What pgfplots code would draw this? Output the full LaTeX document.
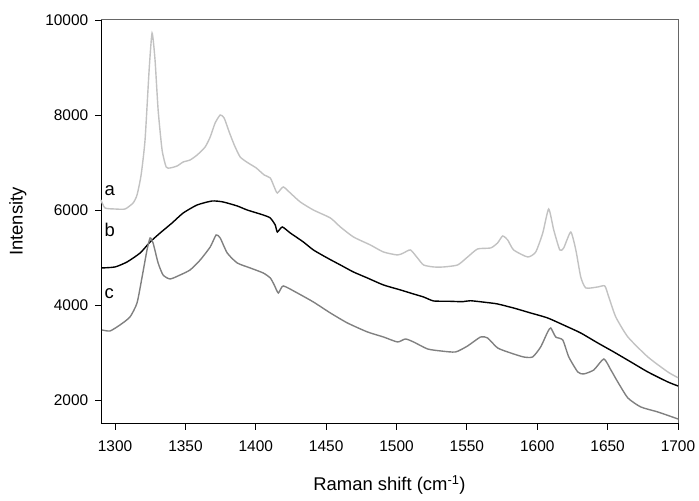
\documentclass[border=0pt]{standalone}
\usepackage{fontspec}
\setmainfont{Liberation Sans}
\usepackage{pgfplots}
\pgfplotsset{compat=1.18}
\definecolor{ca}{gray}{0.76}
\definecolor{cc}{gray}{0.50}
\definecolor{spine}{gray}{0.40}
\begin{document}
\begin{tikzpicture}
\begin{axis}[
  scale only axis, width=577bp, height=403bp,
  xmin=1290, xmax=1700, ymin=1516, ymax=10000,
  axis x line*=bottom, axis y line*=left,
  axis line style={black, line width=0.9pt, -},
  xtick={1300,1350,...,1700}, ytick={2000,4000,6000,8000,10000},
  scaled y ticks=false, scaled x ticks=false,
  tick align=outside,
  tick style={draw=none},
  /pgf/number format/1000 sep={},
  /pgf/number format/assume math mode=true,
  xticklabel style={font=\fontsize{15.5}{18}\selectfont, yshift=-10bp},
  yticklabel style={font=\fontsize{15.5}{18}\selectfont, xshift=-5bp},
  xlabel style={font=\fontsize{18.5}{22}\selectfont, at={(axis description cs:0.5,-0.1687)}, anchor=base},
  ylabel style={font=\fontsize{18.5}{22}\selectfont, at={(axis description cs:-0.136,0.5)}, anchor=base},
  xlabel={Raman shift (cm\textsuperscript{-1})},
  ylabel={Intensity},
  clip=false,
  every axis plot/.append style={smooth, tension=0.35, line width=1.4pt},
]
\draw[spine, line width=1pt] (rel axis cs:0,1) -- (rel axis cs:1,1) -- (rel axis cs:1,0);
% tick marks
\draw[black, line width=0.9pt]
  (axis cs:1300,1516) -- ([yshift=-7bp]axis cs:1300,1516)
  (axis cs:1350,1516) -- ([yshift=-7bp]axis cs:1350,1516)
  (axis cs:1400,1516) -- ([yshift=-7bp]axis cs:1400,1516)
  (axis cs:1450,1516) -- ([yshift=-7bp]axis cs:1450,1516)
  (axis cs:1500,1516) -- ([yshift=-7bp]axis cs:1500,1516)
  (axis cs:1550,1516) -- ([yshift=-7bp]axis cs:1550,1516)
  (axis cs:1600,1516) -- ([yshift=-7bp]axis cs:1600,1516)
  (axis cs:1650,1516) -- ([yshift=-7bp]axis cs:1650,1516)
  (axis cs:1700,1516) -- ([yshift=-7bp]axis cs:1700,1516);
\draw[black, line width=0.9pt]
  (axis cs:1290,2000) -- ([xshift=-6bp]axis cs:1290,2000)
  (axis cs:1290,4000) -- ([xshift=-6bp]axis cs:1290,4000)
  (axis cs:1290,6000) -- ([xshift=-6bp]axis cs:1290,6000)
  (axis cs:1290,8000) -- ([xshift=-6bp]axis cs:1290,8000)
  (axis cs:1290,10000) -- ([xshift=-6bp]axis cs:1290,10000);
% curve a
\addplot[ca] coordinates {
(1290,6211) (1292.8,6043) (1300,6021) (1307.1,6021) (1312.8,6148) (1315.6,6316)
(1318.5,6737) (1321.3,7474) (1324.2,8947) (1326.3,9726) (1328.4,9158) (1330.6,8105)
(1333.4,7264) (1336.3,6906) (1339.1,6885) (1344.1,6927) (1348.4,7011) (1353.3,7053)
(1358.3,7158) (1364.0,7327) (1367.6,7537) (1371.1,7832) (1374.7,8000) (1377.5,7937)
(1381.1,7642) (1384.7,7369) (1388.9,7116) (1394.6,6990) (1400.3,6885) (1406.0,6737)
(1410.3,6674) (1413.1,6485) (1415.3,6358) (1419.5,6485) (1424.5,6358) (1431.6,6169)
(1440.9,6000) (1453.0,5832) (1460.1,5643) (1469.4,5432) (1481.4,5264) (1490.7,5116)
(1500.7,5053) (1504.9,5095) (1509.9,5159) (1514.9,4990) (1519.2,4843) (1526.3,4801)
(1533.4,4801) (1543.4,4843) (1550.5,5011) (1557.6,5180) (1566.9,5201) (1571.8,5306)
(1575.4,5453) (1579.0,5369) (1583.2,5159) (1593.2,5011) (1598.9,5116) (1603.9,5516)
(1608.1,6021) (1611.7,5580) (1616.0,5159) (1618.8,5201) (1623.8,5537) (1627.4,5159)
(1630.9,4590) (1634.5,4359) (1643.0,4380) (1648.0,4401) (1650.8,4169) (1655.8,3748)
(1664.4,3327) (1678.6,2906) (1692.8,2590) (1700,2470)
};
% curve b
\addplot[black] coordinates {
(1290.7,4780) (1300,4801) (1308.5,4906) (1317.8,5095) (1324.9,5327) (1332.0,5516)
(1340.5,5727) (1348.4,5937) (1358.3,6106) (1369.0,6190) (1376.8,6169) (1386.8,6085)
(1393.9,6000) (1405.3,5895) (1410.3,5832) (1413.8,5685) (1415.3,5537) (1418.8,5643)
(1424.5,5516) (1433.8,5327) (1440.9,5159) (1450.8,4990) (1460.1,4843) (1469.4,4695)
(1479.3,4569) (1490.7,4422) (1502.8,4317) (1512.1,4232) (1519.2,4169) (1526.3,4085)
(1536.3,4080) (1546.9,4070) (1552.6,4090) (1566.9,4043) (1571.8,4022) (1583.2,3937)
(1595.3,3832) (1607.4,3727) (1621.7,3538) (1630.9,3411) (1643.0,3201) (1654.4,3011)
(1666.5,2801) (1678.6,2590) (1692.8,2380) (1700,2296)
};
% curve c
\addplot[cc] coordinates {
(1290.7,3475) (1296.4,3453) (1303.5,3580) (1310.6,3748) (1315.6,4043) (1319.2,4590)
(1322.7,5159) (1324.9,5411) (1327.0,5306) (1330.6,4885) (1334.1,4632) (1339.1,4548)
(1346.2,4632) (1353.3,4738) (1360.5,4948) (1367.6,5222) (1371.8,5474) (1374.7,5411)
(1379.7,5095) (1386.8,4885) (1396.0,4780) (1405.3,4674) (1410.3,4569) (1413.1,4422)
(1416.0,4253) (1419.5,4401) (1429.5,4253) (1440.9,4064) (1453.0,3832) (1465.1,3622)
(1479.3,3433) (1490.7,3327) (1500.7,3222) (1506.3,3285) (1512.1,3222) (1522.0,3075)
(1531.3,3033) (1541.9,3011) (1550.5,3138) (1559.7,3327) (1564.7,3306) (1571.8,3096)
(1581.1,2990) (1590.3,2906) (1596.7,2906) (1602.4,3117) (1607.4,3433) (1609.6,3517)
(1613.1,3327) (1618.1,3264) (1622.4,2906) (1628.8,2590) (1633.0,2548) (1640.2,2633)
(1647.3,2864) (1652.3,2633) (1657.2,2380) (1664.4,2043) (1673.6,1853) (1685.7,1748)
(1700,1601)
};
\node[anchor=base west, inner sep=0pt, font=\fontsize{18.5}{22}\selectfont] at (axis cs:1292.5,6295) {a};
\node[anchor=base west, inner sep=0pt, font=\fontsize{18.5}{22}\selectfont] at (axis cs:1292.5,5432) {b};
\node[anchor=base west, inner sep=0pt, font=\fontsize{18.5}{22}\selectfont] at (axis cs:1292.5,4127) {c};
\end{axis}
\path[use as bounding box] ([xshift=-101bp,yshift=-78bp]current axis.south west) rectangle ([xshift=598bp,yshift=423bp]current axis.south west);
\end{tikzpicture}
\end{document}
